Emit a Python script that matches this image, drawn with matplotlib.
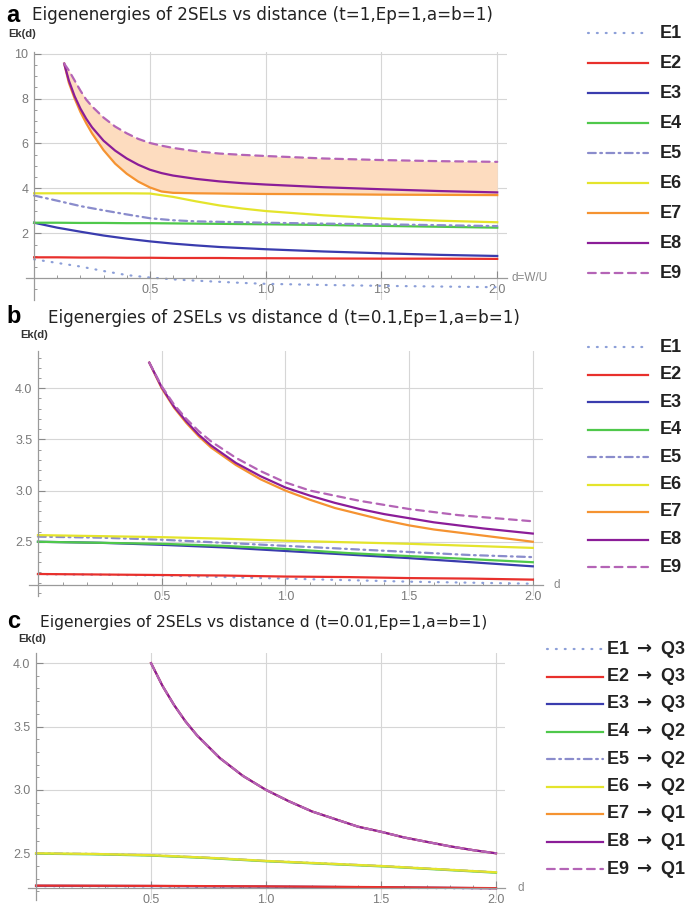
import matplotlib
matplotlib.use("Agg")
import matplotlib.pyplot as plt
from matplotlib.lines import Line2D
from matplotlib.ticker import MultipleLocator, FixedLocator

plt.rcParams['font.family'] = ['Liberation Sans', 'DejaVu Sans']
plt.rcParams['mathtext.fontset'] = 'dejavusans'

# ---- values ----
names = ["E1", "E2", "E3", "E4", "E5", "E6", "E7", "E8", "E9"]
targets = ["Q3", "Q3", "Q3", "Q2", "Q2", "Q2", "Q1", "Q1", "Q1"]

# panel a (t=1)
d_a = [0, 0.1, 0.2, 0.3, 0.4, 0.5, 0.6, 0.7, 0.8, 0.9, 1.0, 1.25, 1.5, 1.75, 2.0]
a_E1 = [0.84, 0.68, 0.52, 0.32, 0.14, 0.03, -0.05, -0.11, -0.16, -0.21, -0.25, -0.30, -0.34, -0.37, -0.40]
a_E2 = [0.93, 0.93, 0.92, 0.92, 0.91, 0.91, 0.90, 0.90, 0.90, 0.89, 0.89, 0.88, 0.87, 0.87, 0.86]
a_E3 = [2.47, 2.25, 2.07, 1.90, 1.76, 1.64, 1.54, 1.46, 1.39, 1.34, 1.29, 1.19, 1.11, 1.04, 0.99]
a_E4 = [2.47, 2.47, 2.46, 2.46, 2.45, 2.45, 2.44, 2.43, 2.42, 2.41, 2.40, 2.37, 2.33, 2.29, 2.25]
a_E5 = [3.68, 3.45, 3.21, 3.02, 2.84, 2.67, 2.58, 2.53, 2.51, 2.49, 2.47, 2.43, 2.40, 2.36, 2.32]
a_E6 = [3.78, 3.78, 3.78, 3.78, 3.78, 3.77, 3.62, 3.42, 3.24, 3.10, 2.99, 2.80, 2.66, 2.56, 2.49]
d_a_hi = [0.13, 0.15, 0.175, 0.2, 0.225, 0.25, 0.3, 0.35, 0.4, 0.45, 0.5, 0.55, 0.6, 0.7,
          0.8, 0.9, 1.0, 1.25, 1.5, 1.75, 2.0]
a_E7 = [9.55, 8.7, 8.0, 7.4, 6.9, 6.45, 5.7, 5.1, 4.65, 4.3, 4.04, 3.86, 3.80, 3.78,
        3.77, 3.76, 3.75, 3.74, 3.72, 3.71, 3.70]
a_E8 = [9.55, 8.8, 8.1, 7.55, 7.1, 6.72, 6.12, 5.68, 5.33, 5.05, 4.83, 4.68, 4.57, 4.42,
        4.31, 4.23, 4.17, 4.05, 3.96, 3.88, 3.82]
a_E9 = [9.55, 9.25, 8.8, 8.35, 7.95, 7.65, 7.15, 6.75, 6.45, 6.2, 6.02, 5.9, 5.8, 5.65,
        5.55, 5.49, 5.44, 5.33, 5.26, 5.21, 5.18]

# panel b (t=0.1)
d_b = [0, 0.25, 0.5, 0.75, 1.0, 1.25, 1.5, 1.75, 2.0]
b_E1 = [2.183, 2.178, 2.17, 2.155, 2.14, 2.125, 2.11, 2.10, 2.09]
b_E2 = [2.185, 2.18, 2.175, 2.17, 2.16, 2.155, 2.145, 2.14, 2.13]
b_E3 = [2.50, 2.49, 2.47, 2.445, 2.41, 2.375, 2.34, 2.30, 2.26]
b_E4 = [2.50, 2.49, 2.48, 2.46, 2.43, 2.39, 2.36, 2.33, 2.30]
b_E5 = [2.55, 2.54, 2.52, 2.49, 2.46, 2.43, 2.40, 2.37, 2.35]
b_E6 = [2.565, 2.555, 2.545, 2.53, 2.51, 2.495, 2.48, 2.46, 2.44]
d_b_hi = [0.45, 0.5, 0.55, 0.6, 0.65, 0.7, 0.8, 0.9, 1.0, 1.1, 1.2, 1.3, 1.4, 1.5,
          1.6, 1.7, 1.8, 1.9, 2.0]
b_E7 = [4.25, 4.0, 3.81, 3.66, 3.53, 3.42, 3.25, 3.11, 3.0, 2.91, 2.83, 2.77, 2.71, 2.66,
        2.62, 2.59, 2.56, 2.53, 2.50]
b_E8 = [4.25, 4.01, 3.82, 3.675, 3.545, 3.44, 3.27, 3.14, 3.03, 2.95, 2.88, 2.82, 2.77, 2.73,
        2.69, 2.66, 2.63, 2.605, 2.58]
b_E9 = [4.25, 4.02, 3.84, 3.70, 3.58, 3.48, 3.32, 3.19, 3.08, 3.0, 2.95, 2.90, 2.86, 2.82,
        2.79, 2.76, 2.74, 2.72, 2.70]

# panel c (t=0.01)
d_c = [0, 0.25, 0.5, 0.75, 1.0, 1.25, 1.5, 1.75, 2.0]
c_E1 = [2.240, 2.240, 2.238, 2.235, 2.232, 2.230, 2.227, 2.225, 2.222]
c_E2 = [2.245, 2.244, 2.243, 2.241, 2.239, 2.236, 2.233, 2.229, 2.225]
c_E3 = [2.244, 2.243, 2.242, 2.240, 2.238, 2.235, 2.232, 2.228, 2.224]
c_E4 = [2.497, 2.492, 2.482, 2.462, 2.437, 2.417, 2.397, 2.372, 2.347]
c_E5 = [2.500, 2.495, 2.485, 2.465, 2.440, 2.420, 2.400, 2.375, 2.350]
c_E6 = [2.500, 2.495, 2.485, 2.465, 2.440, 2.420, 2.400, 2.375, 2.350]
d_c_hi = [0.5, 0.55, 0.6, 0.65, 0.7, 0.8, 0.9, 1.0, 1.1, 1.2, 1.3, 1.4, 1.5, 1.6,
          1.7, 1.8, 1.9, 2.0]
c_E7 = [4.0, 3.82, 3.67, 3.54, 3.43, 3.25, 3.11, 3.0, 2.91, 2.83, 2.77, 2.71, 2.67, 2.625,
        2.59, 2.555, 2.525, 2.50]
c_E8 = c_E7
c_E9 = c_E7

# ---- styles ----
colors = ["#8c9fd8", "#e8302c", "#3a3cae", "#4fc84b", "#8a8ccc",
          "#e4e42c", "#f59331", "#8b1d98", "#b464b6"]
dashes = [(0, (0.4, 3.6)), "-", "-", "-", (0, (3.5, 2, 0.8, 2)),
          "-", "-", "-", (0, (3.5, 2.5))]
W, H = 686, 907

fig = plt.figure(figsize=(W / 100, H / 100), dpi=100)


def fx(px):
    return px / W


def fy(py):
    return 1 - py / H


def draw_panel(box, series, ylim, y_axis, yticks, yminor, yfmt, order, fill=None):
    left, top, right, bottom = box
    ax = fig.add_axes([fx(left), fy(bottom), (right - left) / W, (bottom - top) / H])
    ax.set_xlim(-0.035, 2.04)
    ax.set_ylim(*ylim)
    for s in ["top", "right"]:
        ax.spines[s].set_visible(False)
    ax.spines["left"].set_position(("data", 0))
    ax.spines["bottom"].set_position(("data", y_axis))
    for s in ["left", "bottom"]:
        ax.spines[s].set_color("#9a9a9a")
        ax.spines[s].set_linewidth(0.9)
    ax.xaxis.set_major_locator(FixedLocator([0.5, 1.0, 1.5, 2.0]))
    ax.xaxis.set_minor_locator(MultipleLocator(0.1))
    ax.yaxis.set_major_locator(FixedLocator(yticks))
    ax.yaxis.set_minor_locator(MultipleLocator(yminor))
    ax.set_xticklabels(["0.5", "1.0", "1.5", "2.0"])
    ax.set_yticklabels([yfmt % v for v in yticks])
    ax.tick_params(which="major", direction="in", length=5, width=0.8, color="#8a8a8a",
                   labelcolor="#7a7a7a", labelsize=9, pad=4)
    ax.tick_params(which="minor", direction="in", length=2.5, width=0.6, color="#8a8a8a")
    ax.grid(axis="x", which="major", color="#d6d6d6", linewidth=0.8)
    ax.hlines(yticks, 0, 2.04, color="#d6d6d6", linewidth=0.8, zorder=0.5)
    ax.set_axisbelow(True)
    if fill is not None:
        ax.fill_between(fill[0], fill[1], fill[2], color="#fddcbf", linewidth=0, zorder=1)
    for k, i in enumerate(order):
        x, y = series[i]
        ax.plot(x, y, color=colors[i], linestyle=dashes[i], lw=1.6,
                dash_capstyle="round", zorder=2 + k * 0.1)
    return ax


def draw_legend(x0, x1, xt, y0, step, labels):
    for i, lab in enumerate(labels):
        y = y0 + i * step
        fig.add_artist(Line2D([fx(x0), fx(x1)], [fy(y), fy(y)], transform=fig.transFigure,
                              color=colors[i], linestyle=dashes[i], lw=1.6,
                              dash_capstyle="round"))
        fig.text(fx(xt), fy(y), lab, fontsize=13, fontweight="bold", color="#222222",
                 ha="left", va="center")


title_font = ['DejaVu Sans']

# panel a
series_a = [(d_a, a_E1), (d_a, a_E2), (d_a, a_E3), (d_a, a_E4), (d_a, a_E5), (d_a, a_E6),
            (d_a_hi, a_E7), (d_a_hi, a_E8), (d_a_hi, a_E9)]
draw_panel((26, 52, 506.5, 300), series_a, (-0.97, 10.07), 0, [2, 4, 6, 8, 10], 0.5, "%d",
           range(9), fill=(d_a_hi, a_E7, a_E9))
fig.text(fx(6), fy(15), "a", fontsize=17, fontweight="bold", va="center", ha="left")
fig.text(fx(32), fy(15), "Eigenenergies of 2SELs vs distance (t=1,Ep=1,a=b=1)",
         fontsize=12.1, family=title_font, color="#222222", va="center", ha="left")
fig.text(fx(8), fy(34), "Ek(d)", fontsize=8, fontweight="bold", color="#333333", va="center")
fig.text(fx(511), fy(278), "d=W/U", fontsize=8.5, color="#888888", va="center")
draw_legend(588, 648, 660, 33, 30, names)

# panel b
series_b = [(d_b, b_E1), (d_b, b_E2), (d_b, b_E3), (d_b, b_E4), (d_b, b_E5), (d_b, b_E6),
            (d_b_hi, b_E7), (d_b_hi, b_E8), (d_b_hi, b_E9)]
draw_panel((29.3, 351.4, 542.7, 596), series_b, (1.97, 4.36), 2.077,
           [2.5, 3.0, 3.5, 4.0], 0.1, "%.1f", range(9))
fig.text(fx(6), fy(316), "b", fontsize=17, fontweight="bold", va="center", ha="left")
fig.text(fx(48), fy(318), "Eigenergies of 2SELs vs distance d (t=0.1,Ep=1,a=b=1)",
         fontsize=12.1, family=title_font, color="#222222", va="center", ha="left")
fig.text(fx(20), fy(335), "Ek(d)", fontsize=8, fontweight="bold", color="#333333", va="center")
fig.text(fx(553), fy(585), "d", fontsize=8.5, color="#888888", va="center")
draw_legend(588, 648, 660, 347, 27.5, names)

# panel c
series_c = [(d_c, c_E1), (d_c, c_E2), (d_c, c_E3), (d_c, c_E4), (d_c, c_E5), (d_c, c_E6),
            (d_c_hi, c_E7), (d_c_hi, c_E8), (d_c_hi, c_E9)]
draw_panel((28, 653, 505.2, 900.2), series_c, (2.13, 4.08), 2.224,
           [2.5, 3.0, 3.5, 4.0], 0.1, "%.1f", [0, 2, 1, 3, 4, 5, 6, 7, 8])
fig.text(fx(7), fy(621), "c", fontsize=17, fontweight="bold", va="center", ha="left")
fig.text(fx(40), fy(622), "Eigenergies of 2SELs vs distance d (t=0.01,Ep=1,a=b=1)",
         fontsize=11.2, family=title_font, color="#222222", va="center", ha="left")
fig.text(fx(18), fy(639), "Ek(d)", fontsize=8, fontweight="bold", color="#333333", va="center")
fig.text(fx(518), fy(888), "d", fontsize=8.5, color="#888888", va="center")
draw_legend(547, 603, 606, 649, 27.5,
            [n + r" $\mathbf{\rightarrow}$ " + q for n, q in zip(names, targets)])

fig.savefig("out.png", dpi=100)
